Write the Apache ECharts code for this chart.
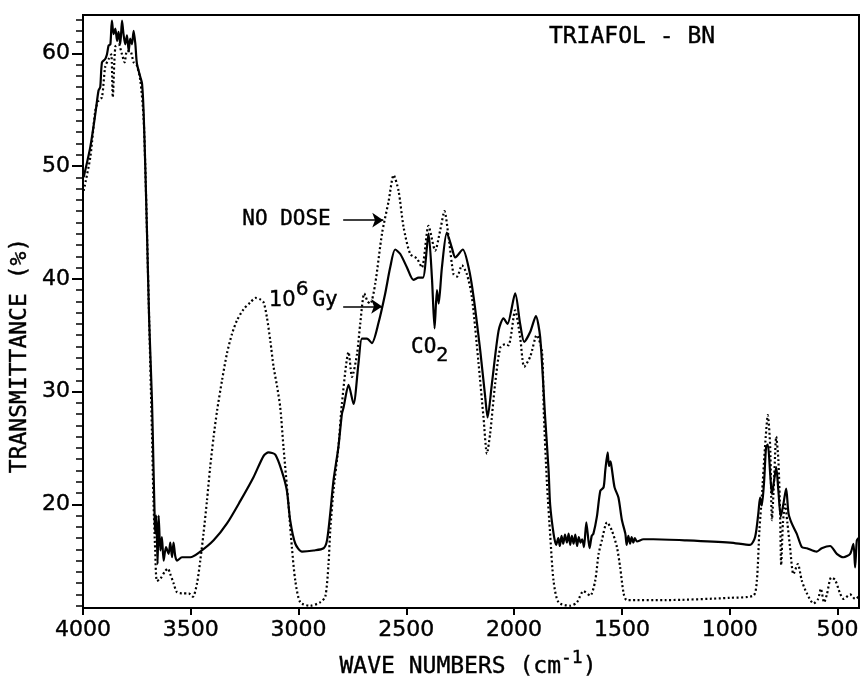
<!DOCTYPE html>
<html>
<head>
<meta charset="utf-8">
<title>Triafol - BN</title>
<script src="https://cdn.jsdelivr.net/npm/echarts@6/dist/echarts.min.js"></script>
<style>
  html, body { margin: 0; padding: 0; background: #fff; }
  #chart { width: 863px; height: 677px; }
</style>
</head>
<body>
<div id="chart"></div>
<script>
// NO DOSE (dotted trace): wave numbers and transmittance (%)
const noDoseWn = [3997, 3966, 3943, 3928, 3912, 3897, 3881, 3869, 3862, 3850, 3835, 3819, 3807, 3796, 3781, 3765, 3750, 3734, 3719, 3711, 3703, 3693,
  3680, 3673, 3665, 3657, 3641, 3618, 3606, 3595, 3580, 3564, 3541, 3510, 3490, 3471, 3456, 3441, 3425, 3410, 3394, 3378, 3355, 3332, 3309,
  3286, 3255, 3224, 3200, 3180, 3162, 3147, 3131, 3116, 3100, 3085, 3070, 3046, 3031, 3015, 2992, 2946, 2900, 2876, 2861, 2853, 2838, 2815,
  2799, 2768, 2752, 2729, 2714, 2695, 2680, 2667, 2644, 2613, 2582, 2559, 2536, 2513, 2482, 2451, 2428, 2397, 2366, 2343, 2323, 2304, 2281,
  2265, 2242, 2219, 2196, 2165, 2142, 2126, 2111, 2088, 2064, 2041, 2026, 1995, 1972, 1953, 1925, 1895, 1871, 1862, 1848, 1832, 1817, 1794,
  1740, 1709, 1678, 1647, 1624, 1608, 1593, 1569, 1547, 1523, 1508, 1492, 1477, 1300, 1000, 890, 874, 862, 851, 836, 823, 812, 804, 794,
  784, 774, 766, 761, 753, 743, 732, 720, 704, 684, 665, 642, 611, 590, 577, 562, 549, 529, 511, 488, 472, 441, 418, 403]
const noDoseT = [47.8, 50.8, 54.9, 55.8, 56.1, 58.8, 59.5, 59.9, 56.1, 60.6, 60.8, 59.9, 59.2, 60.2, 60.2, 59.2, 58.9, 57.6, 54.3, 49.9, 44.0, 36.3,
  26.3, 20.3, 15.9, 13.2, 13.4, 14.1, 14.3, 13.8, 13.0, 12.2, 12.1, 12.1, 11.8, 13.0, 15.0, 17.4, 20.3, 23.3, 26.0, 28.3, 31.0, 33.4, 35.1,
  36.3, 37.3, 37.9, 38.3, 38.2, 37.9, 36.6, 34.5, 32.2, 30.5, 28.6, 25.1, 19.8, 16.2, 13.2, 11.3, 11.0, 11.3, 11.8, 14.7, 17.7, 21.2, 25.1,
  28.9, 33.5, 31.3, 33.3, 36.0, 38.7, 38.0, 37.8, 39.6, 44.0, 46.9, 49.2, 47.8, 44.6, 42.2, 41.8, 41.0, 44.7, 42.5, 44.3, 46.0, 43.7, 40.4,
  40.2, 41.2, 40.4, 38.4, 32.5, 27.7, 24.5, 26.3, 30.7, 33.9, 34.2, 34.1, 37.2, 34.8, 32.2, 33.1, 35.0, 33.6, 28.0, 22.0, 17.1, 13.2, 11.3,
  11.0, 11.3, 12.3, 11.9, 13.2, 15.6, 16.8, 18.4, 17.7, 16.2, 14.4, 12.1, 11.5, 11.5, 11.7, 11.9, 13.2, 17.7, 20.6, 25.1, 27.9, 25.1, 18.6, 22.1,
  26.0, 23.9, 19.2, 14.6, 18.3, 20.0, 18.3, 16.2, 13.8, 14.7, 13.2, 12.1, 11.2, 11.6, 12.5, 11.3, 12.0, 13.5, 13.3, 12.1, 11.6, 12.0, 11.6, 11.8]

// 10^6 Gy (solid trace)
const doseWn = [3997, 3966, 3943, 3928, 3920, 3912, 3897, 3889, 3881, 3873, 3866, 3858, 3850, 3842, 3835, 3827, 3819, 3812, 3804, 3796, 3788,
  3781, 3773, 3765, 3757, 3750, 3734, 3726, 3719, 3711, 3703, 3693, 3680, 3673, 3668, 3665, 3660, 3654, 3649, 3641, 3634, 3626, 3615, 3603,
  3595, 3587, 3580, 3572, 3564, 3541, 3502, 3456, 3394, 3332, 3270, 3209, 3162, 3139, 3108, 3077, 3054, 3039, 3015, 2984, 2930, 2884, 2868,
  2853, 2838, 2815, 2799, 2791, 2768, 2745, 2722, 2706, 2683, 2660, 2629, 2598, 2575, 2552, 2528, 2497, 2467, 2443, 2423, 2397, 2381, 2369,
  2358, 2350, 2335, 2312, 2288, 2273, 2238, 2211, 2188, 2157, 2134, 2123, 2103, 2072, 2049, 2031, 1995, 1972, 1953, 1925, 1899, 1879, 1856,
  1840, 1833, 1817, 1805, 1795, 1788, 1780, 1772, 1764, 1755, 1747, 1740, 1732, 1724, 1716, 1708, 1700, 1692, 1684, 1676, 1665, 1650, 1640,
  1632, 1616, 1600, 1585, 1577, 1566, 1560, 1553, 1547, 1534, 1516, 1500, 1484, 1478, 1470, 1462, 1455, 1447, 1440, 1430, 1400, 1354, 1200,
  998, 905, 882, 867, 859, 851, 840, 831, 823, 812, 804, 794, 784, 774, 763, 751, 738, 727, 712, 689, 665, 642, 596, 573, 534, 503, 472, 441,
  426, 418, 410, 402]
const doseT = [49.0, 51.7, 54.6, 56.7, 57.0, 59.2, 59.5, 59.9, 60.7, 60.8, 62.9, 61.7, 62.2, 61.1, 61.9, 60.8, 62.9, 61.7, 60.8, 61.6, 60.2,
  61.3, 60.8, 62.0, 60.8, 59.1, 57.9, 57.3, 54.9, 49.9, 44.0, 36.3, 29.2, 23.3, 19.2, 17.4, 19.0, 14.7, 19.0, 15.9, 17.1, 15.0, 16.2, 15.6,
  16.6, 15.3, 16.6, 15.4, 15.0, 15.3, 15.3, 15.8, 16.8, 18.3, 20.3, 22.4, 24.3, 24.6, 24.4, 22.9, 21.2, 18.6, 16.5, 15.8, 15.9, 16.1, 16.8,
  19.2, 22.1, 25.1, 28.0, 28.6, 30.6, 28.9, 32.5, 34.7, 34.7, 34.3, 36.1, 38.7, 41.0, 42.6, 42.2, 41.0, 39.9, 40.1, 40.1, 44.0, 40.0, 35.6,
  39.0, 37.8, 41.0, 44.1, 42.7, 41.9, 42.6, 41.0, 38.4, 33.6, 29.5, 27.7, 30.7, 35.4, 36.5, 36.0, 38.7, 36.0, 34.4, 35.3, 36.7, 34.8, 27.7,
  23.0, 20.0, 17.4, 16.4, 17.0, 16.3, 17.2, 16.5, 17.3, 16.6, 17.4, 16.4, 17.2, 16.5, 17.3, 16.3, 17.1, 16.6, 16.9, 16.2, 18.4, 16.1, 17.2,
  17.4, 18.9, 21.2, 21.5, 23.0, 24.6, 23.4, 23.8, 23.2, 21.5, 20.6, 18.6, 17.4, 16.4, 17.2, 16.5, 17.1, 16.6, 17.0, 16.7, 16.9, 16.9, 16.8,
  16.6, 16.4, 17.1, 19.2, 20.6, 19.9, 22.1, 25.1, 25.3, 22.7, 20.9, 22.1, 23.3, 21.2, 18.9, 20.0, 21.4, 19.2, 18.3, 17.4, 16.2, 16.1, 15.8,
  16.1, 16.3, 15.6, 15.3, 15.6, 16.5, 14.4, 16.8, 17.0]

// axis ticks
const xTicks = [4000, 3500, 3000, 2500, 2000, 1500, 1000, 500]
const yMajorTicks = [20, 30, 40, 50, 60]
const yMinorTicks = [11, 12, 13, 14, 15, 16, 17, 18, 19, 21, 22, 23, 24, 25, 26, 27, 28, 29, 31, 32, 33, 34, 35, 36, 37, 38, 39,
  41, 42, 43, 44, 45, 46, 47, 48, 49, 51, 52, 53, 54, 55, 56, 57, 58, 59, 61, 62, 63]

// arrows pointing at the two traces (wave number, transmittance)
const noDoseArrow = [[2793, 45.2], [2607, 45.2]]
const doseArrow = [[2793, 37.55], [2612, 37.55]]

const FONT = 'DejaVu Sans'
const MONO = 'DejaVu Sans Mono'
const INK = 0.4 // thin outline to thicken the lettering a little
const pairs = (xs, ys) => xs.map((x, i) => [x, ys[i]])

const chart = echarts.init(document.getElementById('chart'), null, { renderer: 'canvas' })

const arrowLine = (pts) => ({
  silent: true,
  symbol: ['none', 'arrow'],
  symbolSize: 11,
  label: { show: false },
  emphasis: { disabled: true },
  lineStyle: { color: '#000', width: 1.6, type: 'solid' },
  data: [[{ coord: pts[0] }, { coord: pts[1] }]]
})

const tok = (size, family) => ({ fontSize: size, fontFamily: family || MONO, fill: '#000', stroke: '#000', lineWidth: INK })

const option = {
  animation: false,
  backgroundColor: '#fff',
  grid: {
    left: 83, right: 4, top: 15, bottom: 69,
    show: true, borderColor: '#000', borderWidth: 2, backgroundColor: 'transparent'
  },
  xAxis: {
    type: 'value',
    min: 400,
    max: 4000,
    inverse: true,
    axisLine: { lineStyle: { color: '#000', width: 2 } },
    axisTick: { customValues: xTicks, length: 7, lineStyle: { color: '#000', width: 2 } },
    axisLabel: {
      customValues: xTicks, color: '#000', fontSize: 22, fontFamily: FONT, margin: 11,
      textBorderColor: '#000', textBorderWidth: INK,
      formatter: v => String(v)
    },
    splitLine: { show: false }
  },
  yAxis: [
    {
      type: 'value',
      min: 10.8,
      max: 63.4,
      axisLine: { show: true, lineStyle: { color: '#000', width: 2 } },
      axisTick: { customValues: yMajorTicks, length: 11, lineStyle: { color: '#000', width: 2 } },
      axisLabel: {
        customValues: yMajorTicks, color: '#000', fontSize: 22, fontFamily: FONT, margin: 13,
        textBorderColor: '#000', textBorderWidth: INK
      },
      splitLine: { show: false }
    },
    {
      type: 'value',
      position: 'left',
      min: 10.8,
      max: 63.4,
      axisLine: { show: false },
      axisTick: { show: true, customValues: yMinorTicks, length: 7, lineStyle: { color: '#000', width: 1.5 } },
      axisLabel: { show: false },
      splitLine: { show: false }
    }
  ],
  series: [
    {
      name: 'NO DOSE',
      type: 'line',
      data: pairs(noDoseWn, noDoseT),
      showSymbol: false,
      smooth: 0.25,
      lineStyle: { color: '#000', width: 2.2, type: [2, 2.5] },
      markLine: arrowLine(noDoseArrow)
    },
    {
      name: '10^6 Gy',
      type: 'line',
      data: pairs(doseWn, doseT),
      showSymbol: false,
      smooth: 0.25,
      lineStyle: { color: '#000', width: 2.2 },
      markLine: arrowLine(doseArrow)
    }
  ],
  graphic: [
    {
      type: 'text', x: 632, y: 37.5,
      style: { text: 'TRIAFOL - BN', fill: '#000', stroke: '#000', lineWidth: INK, font: '23px "DejaVu Sans Mono"', textAlign: 'center', textVerticalAlign: 'middle' }
    },
    {
      type: 'text', x: 286.5, y: 219.5,
      style: { text: 'NO DOSE', fill: '#000', stroke: '#000', lineWidth: INK, font: '21px "DejaVu Sans Mono"', textAlign: 'center', textVerticalAlign: 'middle' }
    },
    {
      type: 'text', x: 269, y: 300.5,
      style: {
        text: '{d|10}{s|6}{n|Gy}',
        textAlign: 'left',
        textVerticalAlign: 'middle',
        rich: {
          d: tok(21, FONT),
          n: tok(21),
          s: Object.assign(tok(20, FONT), { padding: [0, 4, 21, 0] })
        }
      }
    },
    {
      type: 'text', x: 411, y: 347.5,
      style: {
        text: '{n|CO}{s|2}',
        textAlign: 'left',
        textVerticalAlign: 'middle',
        rich: {
          n: tok(21),
          s: Object.assign(tok(20), { padding: [16, 0, 0, 0] })
        }
      }
    },
    {
      type: 'text', x: 468, y: 667.5,
      style: {
        text: '{n|WAVE NUMBERS (cm}{s|-1}{n|)}',
        textAlign: 'center',
        textVerticalAlign: 'middle',
        rich: {
          n: tok(23),
          s: Object.assign(tok(18), { padding: [0, 0, 18, 0] })
        }
      }
    },
    {
      type: 'text', x: 20.5, y: 355.5, rotation: Math.PI / 2,
      style: { text: 'TRANSMITTANCE (%)', fill: '#000', stroke: '#000', lineWidth: INK, font: '23px "DejaVu Sans Mono"', textAlign: 'center', textVerticalAlign: 'middle' }
    }
  ]
}

chart.setOption(option)
</script>
</body>
</html>
